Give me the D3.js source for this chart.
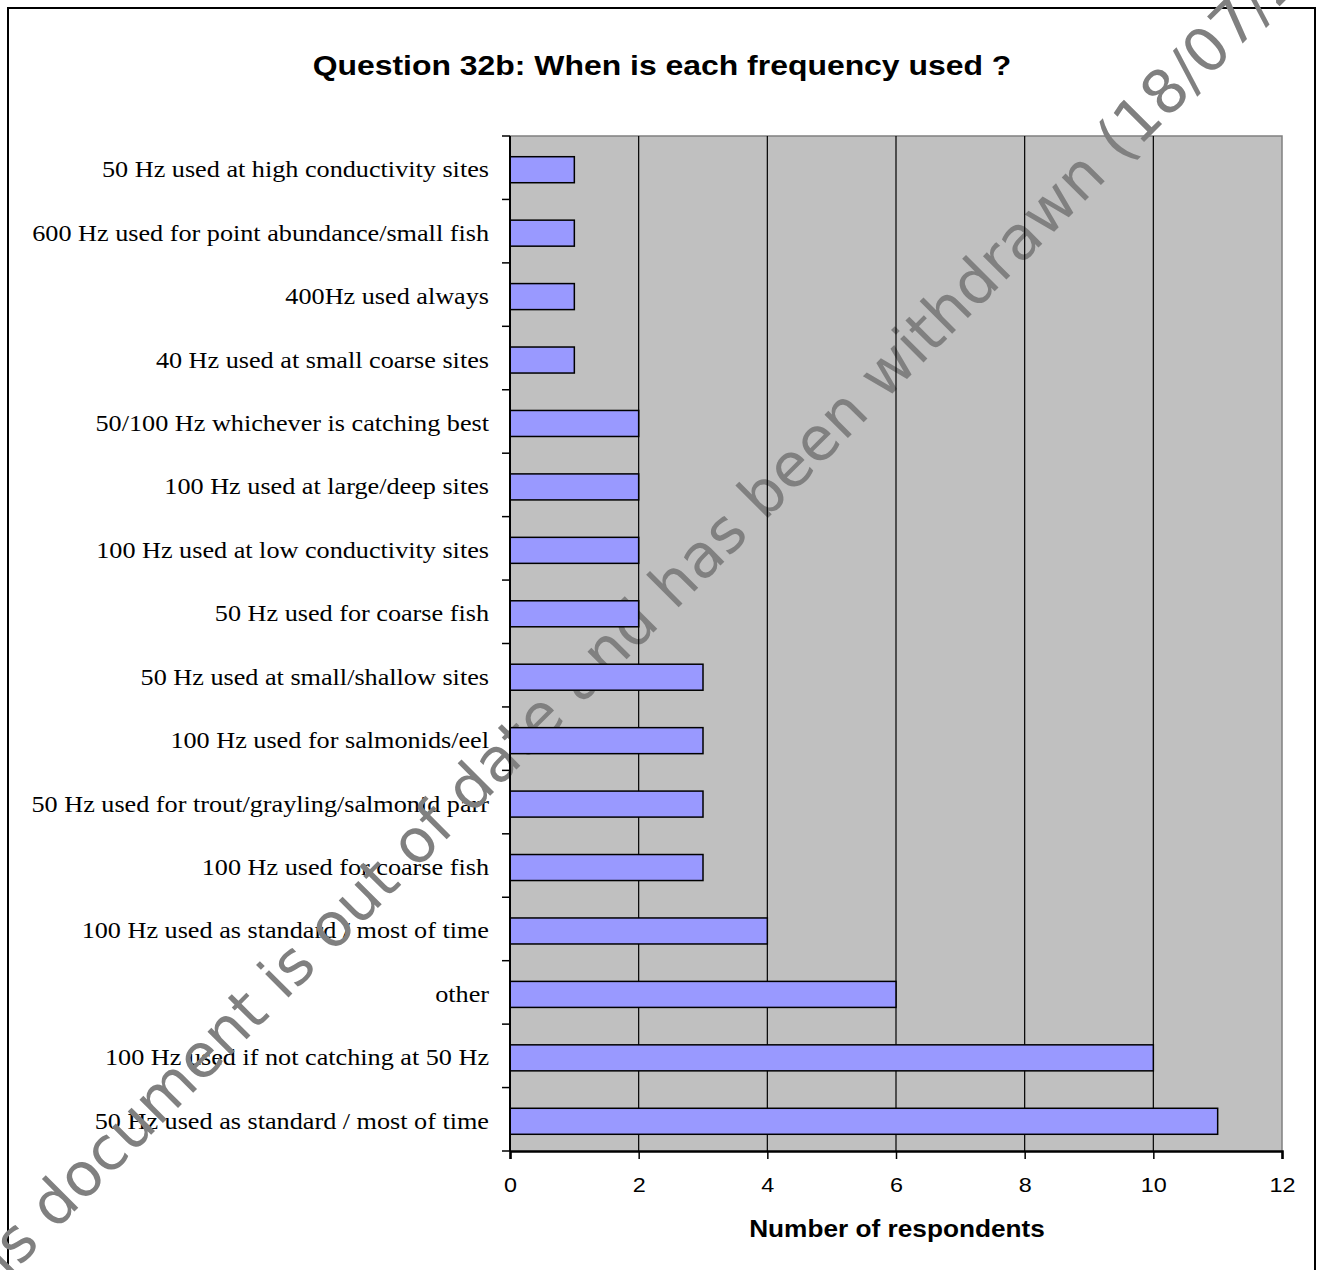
<!DOCTYPE html>
<html><head><meta charset="utf-8">
<script src="https://cdn.jsdelivr.net/npm/d3@7"></script>
<style>html,body{margin:0;padding:0;background:#fff;}</style>
</head><body>
<script>
const categories = [
  "50 Hz used at high conductivity sites",
  "600 Hz used for point abundance/small fish",
  "400Hz used always",
  "40 Hz used at small coarse sites",
  "50/100 Hz whichever is catching best",
  "100 Hz used at large/deep sites",
  "100 Hz used at low conductivity sites",
  "50 Hz used for coarse fish",
  "50 Hz used at small/shallow sites",
  "100 Hz used for salmonids/eel",
  "50 Hz used for trout/grayling/salmonid parr",
  "100 Hz used for coarse fish",
  "100 Hz used as standard / most of time",
  "other",
  "100 Hz used if not catching at 50 Hz",
  "50 Hz used as standard / most of time"
];
const respondents = [1,1,1,1,2,2,2,2,3,3,3,3,4,6,10,11];
const xTicks = [0,2,4,6,8,10,12];
const title = "Question 32b: When is each frequency used ?";
const xTitle = "Number of respondents";
const watermark = "This document is out of date and has been withdrawn (18/07/2012)";

const W = 1321, H = 1270;
const SX = 1.14;   // horizontal stretch of the original rendering (sans texts)
const SXL = 1.165; // stretch of serif category labels
const svg = d3.select("body").append("svg").attr("width", W).attr("height", H);
const L = 510, R = 1282, T = 136, B = 1151;
const SANS = "Liberation Sans, Arial, sans-serif";
const SERIF = "Liberation Serif, Times New Roman, serif";

const x = d3.scaleLinear().domain([0, 12]).range([L, R]);
const y = d3.scaleBand().domain(categories).range([T, B]).paddingInner(0.59).paddingOuter(0.295);
const yb = d3.scaleBand().domain(categories).range([T, B]);

// outer frame
svg.append("rect").attr("x", 8).attr("y", 8).attr("width", 1307).attr("height", 1280)
  .attr("fill", "#fff").attr("stroke", "#000").attr("stroke-width", 2);

// title
svg.append("text").attr("transform", `translate(662,75) scale(${SX},1)`).attr("text-anchor", "middle")
  .attr("font-family", SANS).attr("font-weight", "bold")
  .attr("font-size", 28).text(title);

// plot background
svg.append("rect").attr("x", L).attr("y", T).attr("width", R - L).attr("height", B - T)
  .attr("fill", "#c0c0c0");

// category labels
svg.append("g").selectAll("text").data(categories).join("text")
  .attr("transform", d => `translate(489,${yb(d) + yb.bandwidth() / 2 + 9.5}) scale(${SXL},1)`)
  .attr("text-anchor", "end")
  .attr("font-family", SERIF)
  .attr("font-size", 22.5).attr("fill", "#000").text(d => d);

// watermark
svg.append("text")
  .attr("transform", "translate(-46,1332) rotate(-45)")
  .attr("font-family", "DejaVu Sans, Verdana, sans-serif")
  .attr("font-size", 60.5).attr("fill", "#808080").text(watermark);

// top/right border (gray)
svg.append("path").attr("d", `M${L},${T}H${R}V${B}`).attr("fill", "none")
  .attr("stroke", "#808080").attr("stroke-width", 1.5);

// gridlines
svg.append("g").selectAll("line").data(xTicks.filter(t => t > 0 && t < 12)).join("line")
  .attr("x1", d => x(d)).attr("x2", d => x(d)).attr("y1", T).attr("y2", B)
  .attr("stroke", "#000").attr("stroke-width", 1.2);

// bars
svg.append("g").selectAll("rect").data(categories).join("rect")
  .attr("x", x(0)).attr("y", d => y(d) + 2)
  .attr("width", (d, i) => x(respondents[i]) - x(0)).attr("height", y.bandwidth())
  .attr("fill", "#9999ff").attr("stroke", "#000").attr("stroke-width", 1.5);

// x axis
const xAxis = svg.append("g").attr("transform", `translate(0,${B})`)
  .call(d3.axisBottom(x).tickValues(xTicks).tickSize(8).tickPadding(18).tickFormat(d3.format("d")));
xAxis.select(".domain").attr("stroke-width", 2.5);
xAxis.selectAll(".tick line").attr("stroke-width", 1.5);
xAxis.selectAll("text").attr("font-family", SANS)
  .attr("font-size", 20.5).attr("fill", "#000")
  .attr("transform", `scale(${SX},1)`).attr("x", 0);

// y axis: ticks at band boundaries
const bounds = categories.map(c => yb(c)).concat([B]);
svg.append("g").selectAll("line").data(bounds).join("line")
  .attr("x1", L - 8).attr("x2", L).attr("y1", d => d).attr("y2", d => d)
  .attr("stroke", "#000").attr("stroke-width", 1.5);
svg.append("line").attr("x1", L).attr("x2", L).attr("y1", T).attr("y2", B)
  .attr("stroke", "#000").attr("stroke-width", 2);

// x title
svg.append("text").attr("transform", `translate(${(L + R) / 2 + 1},1237) scale(${SX},1)`).attr("text-anchor", "middle")
  .attr("font-family", SANS).attr("font-weight", "bold")
  .attr("font-size", 23).text(xTitle);
</script>
</body></html>
